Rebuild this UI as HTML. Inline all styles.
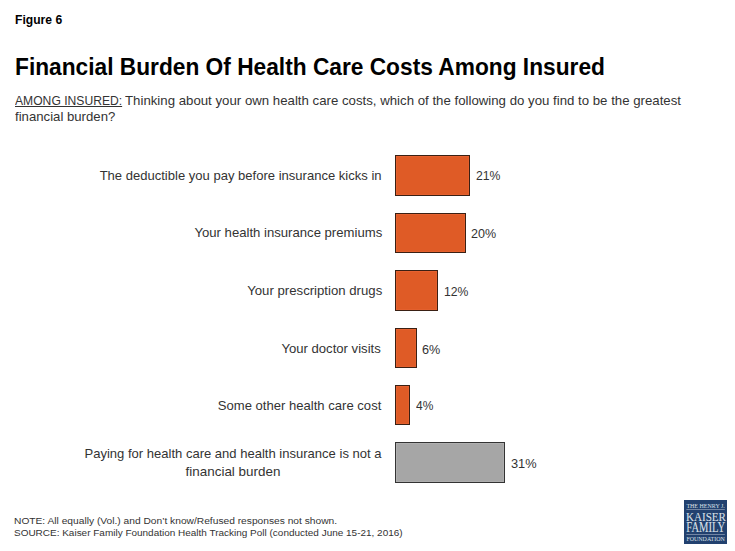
<!DOCTYPE html>
<html><head><meta charset="utf-8">
<style>
html,body{margin:0;padding:0;background:#fff;}
body{width:735px;height:551px;position:relative;overflow:hidden;font-family:"Liberation Sans",sans-serif;}
</style></head><body>
<div style="position:absolute;left:395px;top:155px;width:75px;height:41px;background:#DF5B26;border:1px solid #3A2014;box-shadow:inset 1px 1px 0 #E66230,inset -1px -1px 0 #E4602D;box-sizing:border-box;"></div>
<div style="position:absolute;left:395px;top:213px;width:71px;height:40px;background:#DF5B26;border:1px solid #3A2014;box-shadow:inset 1px 1px 0 #E66230,inset -1px -1px 0 #E4602D;box-sizing:border-box;"></div>
<div style="position:absolute;left:395px;top:270px;width:43px;height:41px;background:#DF5B26;border:1px solid #3A2014;box-shadow:inset 1px 1px 0 #E66230,inset -1px -1px 0 #E4602D;box-sizing:border-box;"></div>
<div style="position:absolute;left:395px;top:328px;width:22px;height:40px;background:#DF5B26;border:1px solid #3A2014;box-shadow:inset 1px 1px 0 #E66230,inset -1px -1px 0 #E4602D;box-sizing:border-box;"></div>
<div style="position:absolute;left:395px;top:385px;width:15px;height:40px;background:#DF5B26;border:1px solid #3A2014;box-shadow:inset 1px 1px 0 #E66230,inset -1px -1px 0 #E4602D;box-sizing:border-box;"></div>
<div style="position:absolute;left:395px;top:442px;width:110px;height:41px;background:#A6A6A6;border:1px solid #333;box-shadow:inset 1px 1px 0 #B0B0B0,inset -1px -1px 0 #AEAEAE;box-sizing:border-box;"></div>
<svg style="position:absolute;left:684px;top:500px;" width="43" height="44" viewBox="0 0 43 44"><rect x="0" y="0" width="43" height="44" fill="#22416F"/><g fill="#DCE0E8" font-family="Liberation Serif">
<text x="2.4" y="7.9" font-size="7.0" textLength="38.4" lengthAdjust="spacingAndGlyphs">THE HENRY J.</text>
<text x="2.0" y="20.8" font-size="13.0" textLength="40" lengthAdjust="spacingAndGlyphs" stroke="#DCE0E8" stroke-width="0.08">KAISER</text>
<text x="2.3" y="32.0" font-size="13.8" textLength="38.8" lengthAdjust="spacingAndGlyphs" stroke="#DCE0E8" stroke-width="0.08">FAMILY</text>
<text x="2.4" y="41.4" font-size="6.9" textLength="38.4" lengthAdjust="spacingAndGlyphs">FOUNDATION</text>
</g><rect x="2.4" y="9.4" width="38.4" height="0.6" fill="#A8B2C6"/><rect x="2.4" y="34.4" width="38.4" height="0.6" fill="#A8B2C6"/></svg>
<div id="fig" style="position:absolute;top:11.96px;font-size:13.1px;line-height:16px;font-weight:bold;color:#000;white-space:nowrap;letter-spacing:0px;left:14.80px;transform:scaleX(0.9260);transform-origin:0 0;">Figure 6</div>
<div id="title" style="position:absolute;top:50.74px;font-size:24.7px;line-height:31px;font-weight:bold;color:#000;white-space:nowrap;letter-spacing:0px;left:15.00px;transform:scaleX(0.9202);transform-origin:0 0;">Financial Burden Of Health Care Costs Among Insured</div>
<div id="sub1a" style="position:absolute;top:91.69px;font-size:13.3px;line-height:17px;font-weight:normal;color:#333333;white-space:nowrap;letter-spacing:0px;left:14.80px;transform:scaleX(0.9120);transform-origin:0 0;"><span style="text-decoration:underline">AMONG INSURED:</span></div>
<div id="sub1b" style="position:absolute;top:91.69px;font-size:13.3px;line-height:17px;font-weight:normal;color:#333333;white-space:nowrap;letter-spacing:0px;left:125.00px;transform:scaleX(0.9950);transform-origin:0 0;">Thinking about your own health care costs, which of the following do you find to be the greatest</div>
<div id="sub2" style="position:absolute;top:108.49px;font-size:13.3px;line-height:17px;font-weight:normal;color:#333333;white-space:nowrap;letter-spacing:0px;left:14.80px;transform:scaleX(0.9901);transform-origin:0 0;">financial burden?</div>
<div id="l1" style="position:absolute;top:167.09px;font-size:13.3px;line-height:17px;font-weight:normal;color:#333333;white-space:nowrap;letter-spacing:0px;right:353.20px;transform:scaleX(0.9804);transform-origin:100% 0;text-align:right;">The deductible you pay before insurance kicks in</div>
<div id="l2" style="position:absolute;top:224.09px;font-size:13.3px;line-height:17px;font-weight:normal;color:#333333;white-space:nowrap;letter-spacing:0px;right:353.20px;transform:scaleX(0.9873);transform-origin:100% 0;text-align:right;">Your health insurance premiums</div>
<div id="l3" style="position:absolute;top:281.69px;font-size:13.3px;line-height:17px;font-weight:normal;color:#333333;white-space:nowrap;letter-spacing:0px;right:353.20px;transform:scaleX(0.9911);transform-origin:100% 0;text-align:right;">Your prescription drugs</div>
<div id="l4" style="position:absolute;top:339.69px;font-size:13.3px;line-height:17px;font-weight:normal;color:#333333;white-space:nowrap;letter-spacing:0px;right:353.80px;transform:scaleX(0.9861);transform-origin:100% 0;text-align:right;">Your doctor visits</div>
<div id="l5" style="position:absolute;top:396.69px;font-size:13.3px;line-height:17px;font-weight:normal;color:#333333;white-space:nowrap;letter-spacing:0px;right:353.80px;transform:scaleX(0.9830);transform-origin:100% 0;text-align:right;">Some other health care cost</div>
<div id="l6a" style="position:absolute;top:445.29px;font-size:13.3px;line-height:17px;font-weight:normal;color:#333333;white-space:nowrap;letter-spacing:0px;left:-66.80px;width:600px;text-align:center;transform:scaleX(0.9801);transform-origin:50% 0;">Paying for health care and health insurance is not a</div>
<div id="l6b" style="position:absolute;top:462.89px;font-size:13.3px;line-height:17px;font-weight:normal;color:#333333;white-space:nowrap;letter-spacing:0px;left:-66.90px;width:600px;text-align:center;transform:scaleX(1.0098);transform-origin:50% 0;">financial burden</div>
<div id="p1" style="position:absolute;top:167.49px;font-size:13.3px;line-height:17px;font-weight:normal;color:#333333;white-space:nowrap;letter-spacing:0px;left:475.60px;transform:scaleX(0.9197);transform-origin:0 0;">21%</div>
<div id="p2" style="position:absolute;top:225.49px;font-size:13.3px;line-height:17px;font-weight:normal;color:#333333;white-space:nowrap;letter-spacing:0px;left:471.40px;transform:scaleX(0.9436);transform-origin:0 0;">20%</div>
<div id="p3" style="position:absolute;top:282.89px;font-size:13.3px;line-height:17px;font-weight:normal;color:#333333;white-space:nowrap;letter-spacing:0px;left:443.80px;transform:scaleX(0.9166);transform-origin:0 0;">12%</div>
<div id="p4" style="position:absolute;top:340.69px;font-size:13.3px;line-height:17px;font-weight:normal;color:#333333;white-space:nowrap;letter-spacing:0px;left:422.00px;transform:scaleX(0.9513);transform-origin:0 0;">6%</div>
<div id="p5" style="position:absolute;top:397.49px;font-size:13.3px;line-height:17px;font-weight:normal;color:#333333;white-space:nowrap;letter-spacing:0px;left:415.80px;transform:scaleX(0.9012);transform-origin:0 0;">4%</div>
<div id="p6" style="position:absolute;top:454.89px;font-size:13.3px;line-height:17px;font-weight:normal;color:#333333;white-space:nowrap;letter-spacing:0px;left:510.60px;transform:scaleX(0.9632);transform-origin:0 0;">31%</div>
<div id="note1" style="position:absolute;top:514.64px;font-size:9.7px;line-height:12px;font-weight:normal;color:#333333;white-space:nowrap;letter-spacing:0px;left:14.00px;transform:scaleX(1.0544);transform-origin:0 0;">NOTE: All equally (Vol.) and Don’t know/Refused responses not shown.</div>
<div id="note2" style="position:absolute;top:527.24px;font-size:9.7px;line-height:12px;font-weight:normal;color:#333333;white-space:nowrap;letter-spacing:0px;left:14.00px;transform:scaleX(1.0295);transform-origin:0 0;">SOURCE: Kaiser Family Foundation Health Tracking Poll (conducted June 15-21, 2016)</div>
</body></html>
